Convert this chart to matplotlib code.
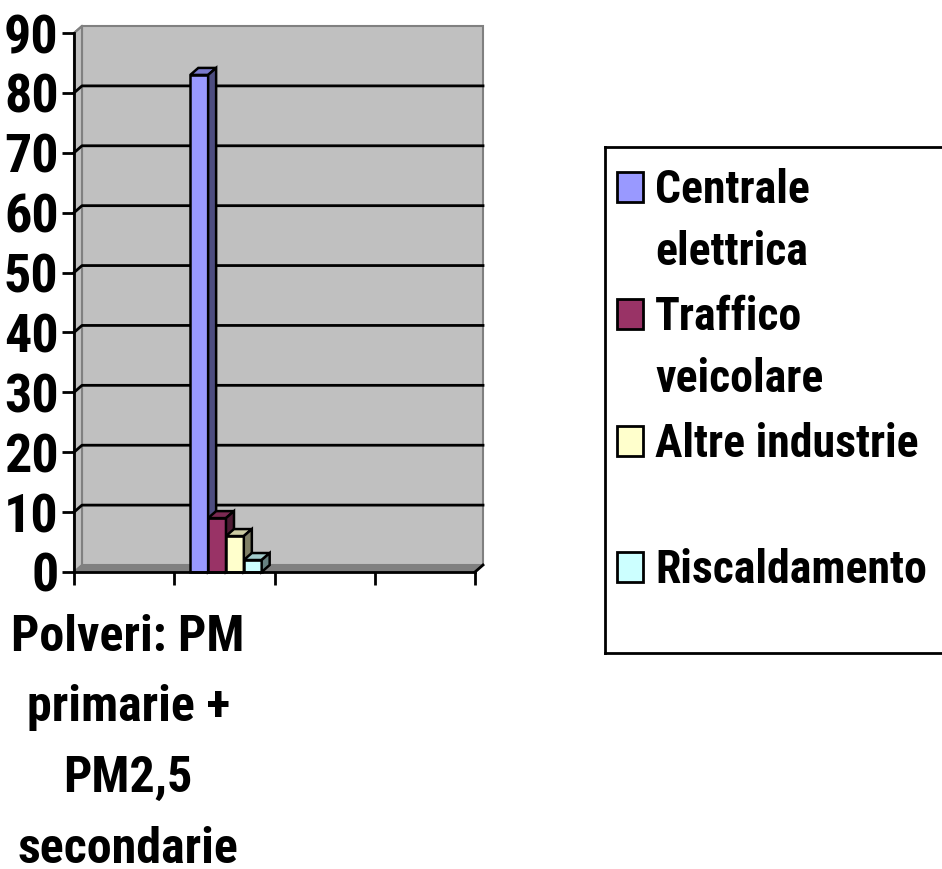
import numpy as np
import matplotlib.pyplot as plt
from matplotlib.patches import Polygon, Rectangle

# data
categories = ["Polveri: PM\nprimarie +\nPM2,5\nsecondarie", "", "", ""]
series = ["Centrale\nelettrica", "Traffico\nveicolare", "Altre industrie\n", "Riscaldamento\n"]
values = [83, 9, 6, 2]
colors = ["#9999FF", "#993366", "#FFFFCC", "#CCFFFF"]
yticks = list(range(0, 100, 10))

plt.rcParams["font.family"] = ["Roboto Condensed", "Fira Sans Condensed", "Liberation Sans"]
plt.rcParams["font.weight"] = "bold"

W, H = 942, 869
fig = plt.figure(figsize=(W / 100, H / 100), dpi=100)

# front plane of the pseudo-3D plot, in pixels
L, R, B, T = 74, 475, 572, 33
ax = fig.add_axes([L / W, 1 - B / H, (R - L) / W, (B - T) / H])
nx = len(categories)
ax.set_xlim(0, nx)
ax.set_ylim(0, 90)
ax.patch.set_visible(False)

# depth offset of the back wall in data units
dx = 8 / ((R - L) / nx)
dy = 7 / ((B - T) / 90)

# back wall, side wall and floor
ax.add_patch(Rectangle((dx, dy), nx, 90, facecolor="#C0C0C0", edgecolor="#808080",
                       lw=1.5, zorder=0, clip_on=False))
ax.add_patch(Polygon([(0, 0), (dx, dy), (dx, 90 + dy), (0, 90)], closed=True,
                     facecolor="#C0C0C0", edgecolor="#808080", lw=1.5, zorder=0, clip_on=False))
ax.add_patch(Polygon([(0, 0), (nx, 0), (nx + dx, dy), (dx, dy)], closed=True,
                     facecolor="#808080", edgecolor="#808080", lw=1, zorder=0, clip_on=False))
ax.plot([nx, nx + dx], [0, dy], color="black", lw=2, clip_on=False, zorder=1)

for v in yticks[1:-1]:
    ax.plot([0, dx, nx + dx], [v, v + dy, v + dy], color="black", lw=2, zorder=1, clip_on=False)
ax.plot([0, dx], [90, 90 + dy], color="#808080", lw=1.5, zorder=1, clip_on=False)


def shade(c, f):
    rgb = np.array(plt.matplotlib.colors.to_rgb(c))
    return tuple(rgb * f)


# bars sit in the second category slot, as in the picture
bw = 0.178
x0 = 1.16
for i, (v, c) in enumerate(zip(values, colors)):
    xl = x0 + i * bw
    z = 3 + i
    ax.bar(xl, v, width=bw, align="edge", color=c, edgecolor="black", lw=1.8, zorder=z, clip_on=False)
    ax.add_patch(Polygon([(xl, v), (xl + dx, v + dy), (xl + bw + dx, v + dy), (xl + bw, v)],
                         closed=True, facecolor=shade(c, 0.8), edgecolor="black", lw=1.8,
                         zorder=z, clip_on=False))
    ax.add_patch(Polygon([(xl + bw, 0), (xl + bw, v), (xl + bw + dx, v + dy), (xl + bw + dx, dy)],
                         closed=True, facecolor=shade(c, 0.5), edgecolor="black", lw=1.8,
                         zorder=z, clip_on=False))

for s in ["top", "right"]:
    ax.spines[s].set_visible(False)
for s in ["left", "bottom"]:
    ax.spines[s].set_linewidth(2)
    ax.spines[s].set_zorder(10)

ax.set_yticks(yticks)
ax.set_yticklabels([str(t) for t in yticks], fontsize=39, fontweight="bold")
ax.set_xticks(range(nx + 1))
ax.set_xticklabels([])
ax.set_xticks(np.arange(nx) + 0.54, minor=True)
ax.set_xticklabels(categories, minor=True, fontsize=36, fontweight="bold", linespacing=1.64)
ax.tick_params(axis="both", which="major", length=9, width=2, direction="out", pad=2)
ax.tick_params(axis="x", which="minor", length=0, pad=30)

# legend drawn by hand so the swatches sit on the first text line
lax = fig.add_axes([605 / W, 1 - 653 / H, (W + 5 - 605) / W, (653 - 147) / H])
lax.set_xlim(605, W + 5)
lax.set_ylim(653, 147)
lax.set_xticks([])
lax.set_yticks([])
for s in lax.spines.values():
    s.set_linewidth(2)
tops = [172, 299, 426, 552]
for lab, c, t in zip(series, colors, tops):
    lax.add_patch(Rectangle((617, t), 26, 30, facecolor=c, edgecolor="black", lw=2))
    lax.text(655, t - 4, lab, fontsize=33, fontweight="bold", va="top", ha="left",
             linespacing=1.5)

fig.savefig("out.png", dpi=100)
